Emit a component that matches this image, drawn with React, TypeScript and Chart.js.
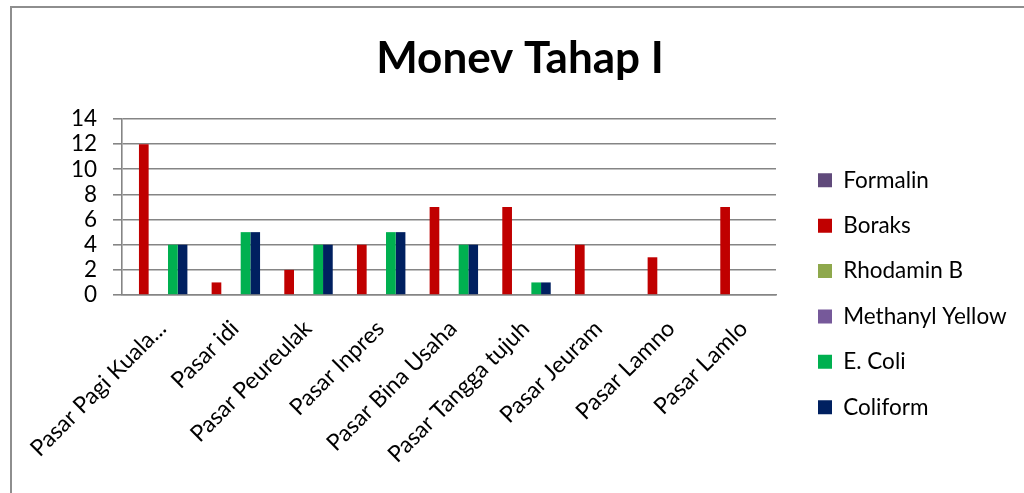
import { useEffect, useRef } from 'react';
import { Chart, registerables } from 'chart.js';

Chart.register(...registerables);

const TITLE = 'Monev Tahap I';
const CATEGORIES = [
  'Pasar Pagi Kuala...',
  'Pasar idi',
  'Pasar Peureulak',
  'Pasar Inpres',
  'Pasar Bina Usaha',
  'Pasar Tangga tujuh',
  'Pasar Jeuram',
  'Pasar Lamno',
  'Pasar Lamlo',
];
const SERIES_NAMES = ['Formalin', 'Boraks', 'Rhodamin B', 'Methanyl Yellow', 'E. Coli', 'Coliform'];
const SERIES_COLORS = ['#604A7B', '#C00000', '#8EA84C', '#76599A', '#00B050', '#002060'];
const FORMALIN = [0, 0, 0, 0, 0, 0, 0, 0, 0];
const BORAKS = [12, 1, 2, 4, 7, 7, 4, 3, 7];
const RHODAMIN_B = [0, 0, 0, 0, 0, 0, 0, 0, 0];
const METHANYL_YELLOW = [0, 0, 0, 0, 0, 0, 0, 0, 0];
const E_COLI = [4, 5, 4, 5, 4, 1, 0, 0, 0];
const COLIFORM = [4, 5, 4, 5, 4, 1, 0, 0, 0];
const Y_MIN = 0;
const Y_MAX = 14;
const Y_STEP = 2;

const FAMILY = 'Lato';
const GRID = '#858585';
const FONT_SIZE = 22.5;

export default function App() {
  const ref = useRef<HTMLCanvasElement>(null);

  useEffect(() => {
    const canvas = ref.current!;
    const mctx = canvas.getContext('2d')!;
    mctx.font = `${FONT_SIZE}px ${FAMILY}`;
    const longest = Math.max(...SERIES_NAMES.map((s) => mctx.measureText(s).width));
    const LEGEND_PAD = 42;
    const legendW = LEGEND_PAD + 14 + FONT_SIZE / 2 + longest + 10;
    const side = Math.max(0, 252 - legendW);

    const values = [FORMALIN, BORAKS, RHODAMIN_B, METHANYL_YELLOW, E_COLI, COLIFORM];
    const tickFont = { family: FAMILY, size: FONT_SIZE };

    const chart = new Chart(canvas, {
      type: 'bar',
      data: {
        labels: CATEGORIES,
        datasets: SERIES_NAMES.map((name, i) => ({
          label: name,
          data: values[i],
          backgroundColor: SERIES_COLORS[i],
          borderWidth: 0,
          categoryPercentage: 0.8,
          barPercentage: 1.0,
        })),
      },
      options: {
        responsive: false,
        animation: false,
        layout: { autoPadding: false, padding: { left: side, right: side, top: 0, bottom: 0 } },
        plugins: {
          title: {
            display: true,
            text: TITLE,
            color: '#000',
            font: { family: FAMILY, size: 44, weight: 'bold', lineHeight: 1.2 },
            padding: { top: 24, bottom: 34.2 },
          },
          legend: {
            position: 'right',
            align: 'start',
            title: { display: true, text: '', font: { size: 12, lineHeight: '119px' }, padding: 0 },
            labels: {
              boxWidth: 14,
              boxHeight: 14,
              padding: LEGEND_PAD,
              color: '#000',
              font: { family: FAMILY, size: FONT_SIZE, lineHeight: '3.4px' },
              generateLabels: (c: any) =>
                (Chart.defaults.plugins.legend.labels as any)
                  .generateLabels(c)
                  .map((l: any) => ({ ...l, text: [l.text], lineWidth: 0 })),
            },
          },
          tooltip: { enabled: false },
        },
        scales: {
          x: {
            grid: { display: false, drawTicks: false },
            border: { display: true, color: GRID, width: 1.5 },
            ticks: {
              autoSkip: false,
              minRotation: 45,
              maxRotation: 45,
              padding: 20,
              labelOffset: 4,
              color: '#000',
              font: { family: FAMILY, size: 23 },
            },
            afterFit: (s: any) => {
              s.height = 198;
              s.paddingLeft = 0;
              s.paddingRight = 0;
            },
          },
          y: {
            min: Y_MIN,
            max: Y_MAX,
            ticks: { stepSize: Y_STEP, autoSkip: false, padding: 16, color: '#000', font: tickFont },
            grid: { color: GRID, lineWidth: 1.6, tickLength: 9 },
            border: { display: true, color: GRID, width: 1.6 },
            afterFit: (s: any) => {
              s.width = 110 - side;
            },
          },
        },
      } as any,
    });
    return () => chart.destroy();
  }, []);

  return (
    <div style={{ position: 'fixed', inset: 0, overflow: 'hidden', background: '#fff' }}>
      <div
        style={{
          position: 'absolute',
          left: 10,
          top: 6,
          width: 1100,
          height: 600,
          border: '2px solid #8e8e8e',
          boxSizing: 'border-box',
        }}
      >
        <canvas ref={ref} width={1016} height={485} style={{ display: 'block', width: 1016, height: 485 }} />
      </div>
    </div>
  );
}
